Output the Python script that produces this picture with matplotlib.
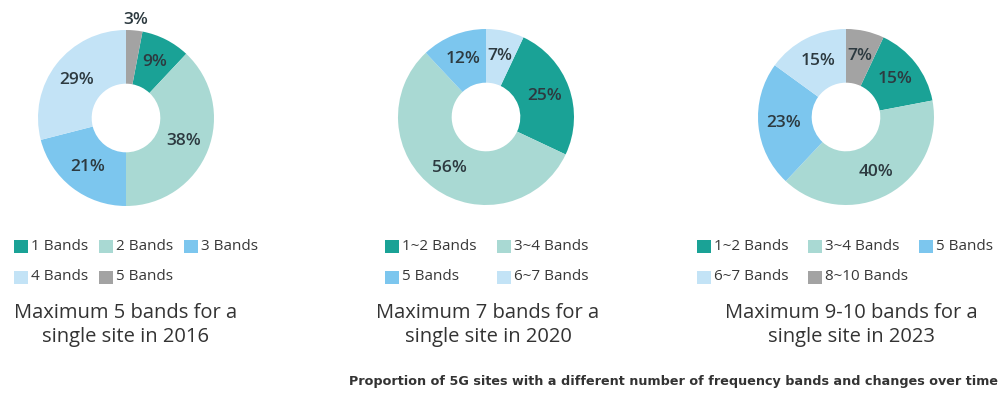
import matplotlib.pyplot as plt
from matplotlib.patches import Rectangle
import numpy as np

plt.rcParams['font.family'] = ['Open Sans', 'DejaVu Sans']

W, H = 1000, 394

TEAL = '#1aa296'
LIGHT_TEAL = '#a9d9d3'
SKY = '#7cc6ee'
PALE = '#c3e3f6'
GRAY = '#a3a3a3'

# share of sites (%) by number of bands
labels_2016 = ['1 Bands', '2 Bands', '3 Bands', '4 Bands', '5 Bands']
share_2016 = [9, 38, 21, 29, 3]
colors_2016 = [TEAL, LIGHT_TEAL, SKY, PALE, GRAY]

labels_2020 = ['1~2 Bands', '3~4 Bands', '5 Bands', '6~7 Bands']
share_2020 = [25, 56, 12, 7]
colors_2020 = [TEAL, LIGHT_TEAL, SKY, PALE]

labels_2023 = ['1~2 Bands', '3~4 Bands', '5 Bands', '6~7 Bands', '8~10 Bands']
share_2023 = [15, 40, 23, 15, 7]
colors_2023 = [TEAL, LIGHT_TEAL, SKY, PALE, GRAY]

titles = ['Maximum 5 bands for a\nsingle site in 2016',
          'Maximum 7 bands for a\nsingle site in 2020',
          'Maximum 9-10 bands for a\nsingle site in 2023']

caption = 'Proportion of 5G sites with a different number of frequency bands and changes over time'

# layout in pixels: donut centre, legend column x positions, title centre
panels = [
    dict(labels=labels_2016, share=share_2016, colors=colors_2016,
         c=(126, 118), cols=[14, 99, 184], title_x=126),
    dict(labels=labels_2020, share=share_2020, colors=colors_2020,
         c=(486, 117), cols=[385, 497], title_x=488),
    dict(labels=labels_2023, share=share_2023, colors=colors_2023,
         c=(846, 117), cols=[697, 808, 919], title_x=851),
]
R = 88
legend_rows = [246, 277]

fig = plt.figure(figsize=(W / 100, H / 100), dpi=100)

for p, title in zip(panels, titles):
    cx, cy = p['c']
    ax = fig.add_axes([(cx - R) / W, (H - cy - R) / H, 2 * R / W, 2 * R / H])
    share = p['share']
    wedges, _ = ax.pie(share, colors=p['colors'], radius=1,
                       startangle=90 - 3.6 * share[-1], counterclock=False,
                       wedgeprops=dict(width=0.61, linewidth=0))
    ax.set_xlim(-1, 1)
    ax.set_ylim(-1, 1)
    ax.axis('off')

    for w, v in zip(wedges, share):
        mid = np.deg2rad((w.theta1 + w.theta2) / 2)
        r = 0.71 if v >= 5 else 1.12
        ax.text(r * np.cos(mid), r * np.sin(mid), f'{v}%', ha='center', va='center',
                fontsize=12.5, fontweight='semibold', color='#2d3a40')

    # legend, filled row by row
    ncol = len(p['cols'])
    for i, (lab, col) in enumerate(zip(p['labels'], p['colors'])):
        x = p['cols'][i % ncol]
        y = legend_rows[i // ncol]
        fig.add_artist(Rectangle((x / W, 1 - (y + 7) / H), 14 / W, 13 / H,
                                 transform=fig.transFigure, facecolor=col, edgecolor='none'))
        fig.text((x + 17) / W, 1 - y / H, lab, ha='left', va='center',
                 fontsize=11, color='#383838')

    fig.text(p['title_x'] / W, 1 - 325 / H, title, ha='center', va='center',
             fontsize=14.5, color='#333333', linespacing=1.22)

fig.text(998 / W, 1 - 381 / H, caption, ha='right', va='center',
         fontsize=9.2, fontweight='bold', family='DejaVu Sans', color='#333333')

fig.savefig('out.png', dpi=100)
